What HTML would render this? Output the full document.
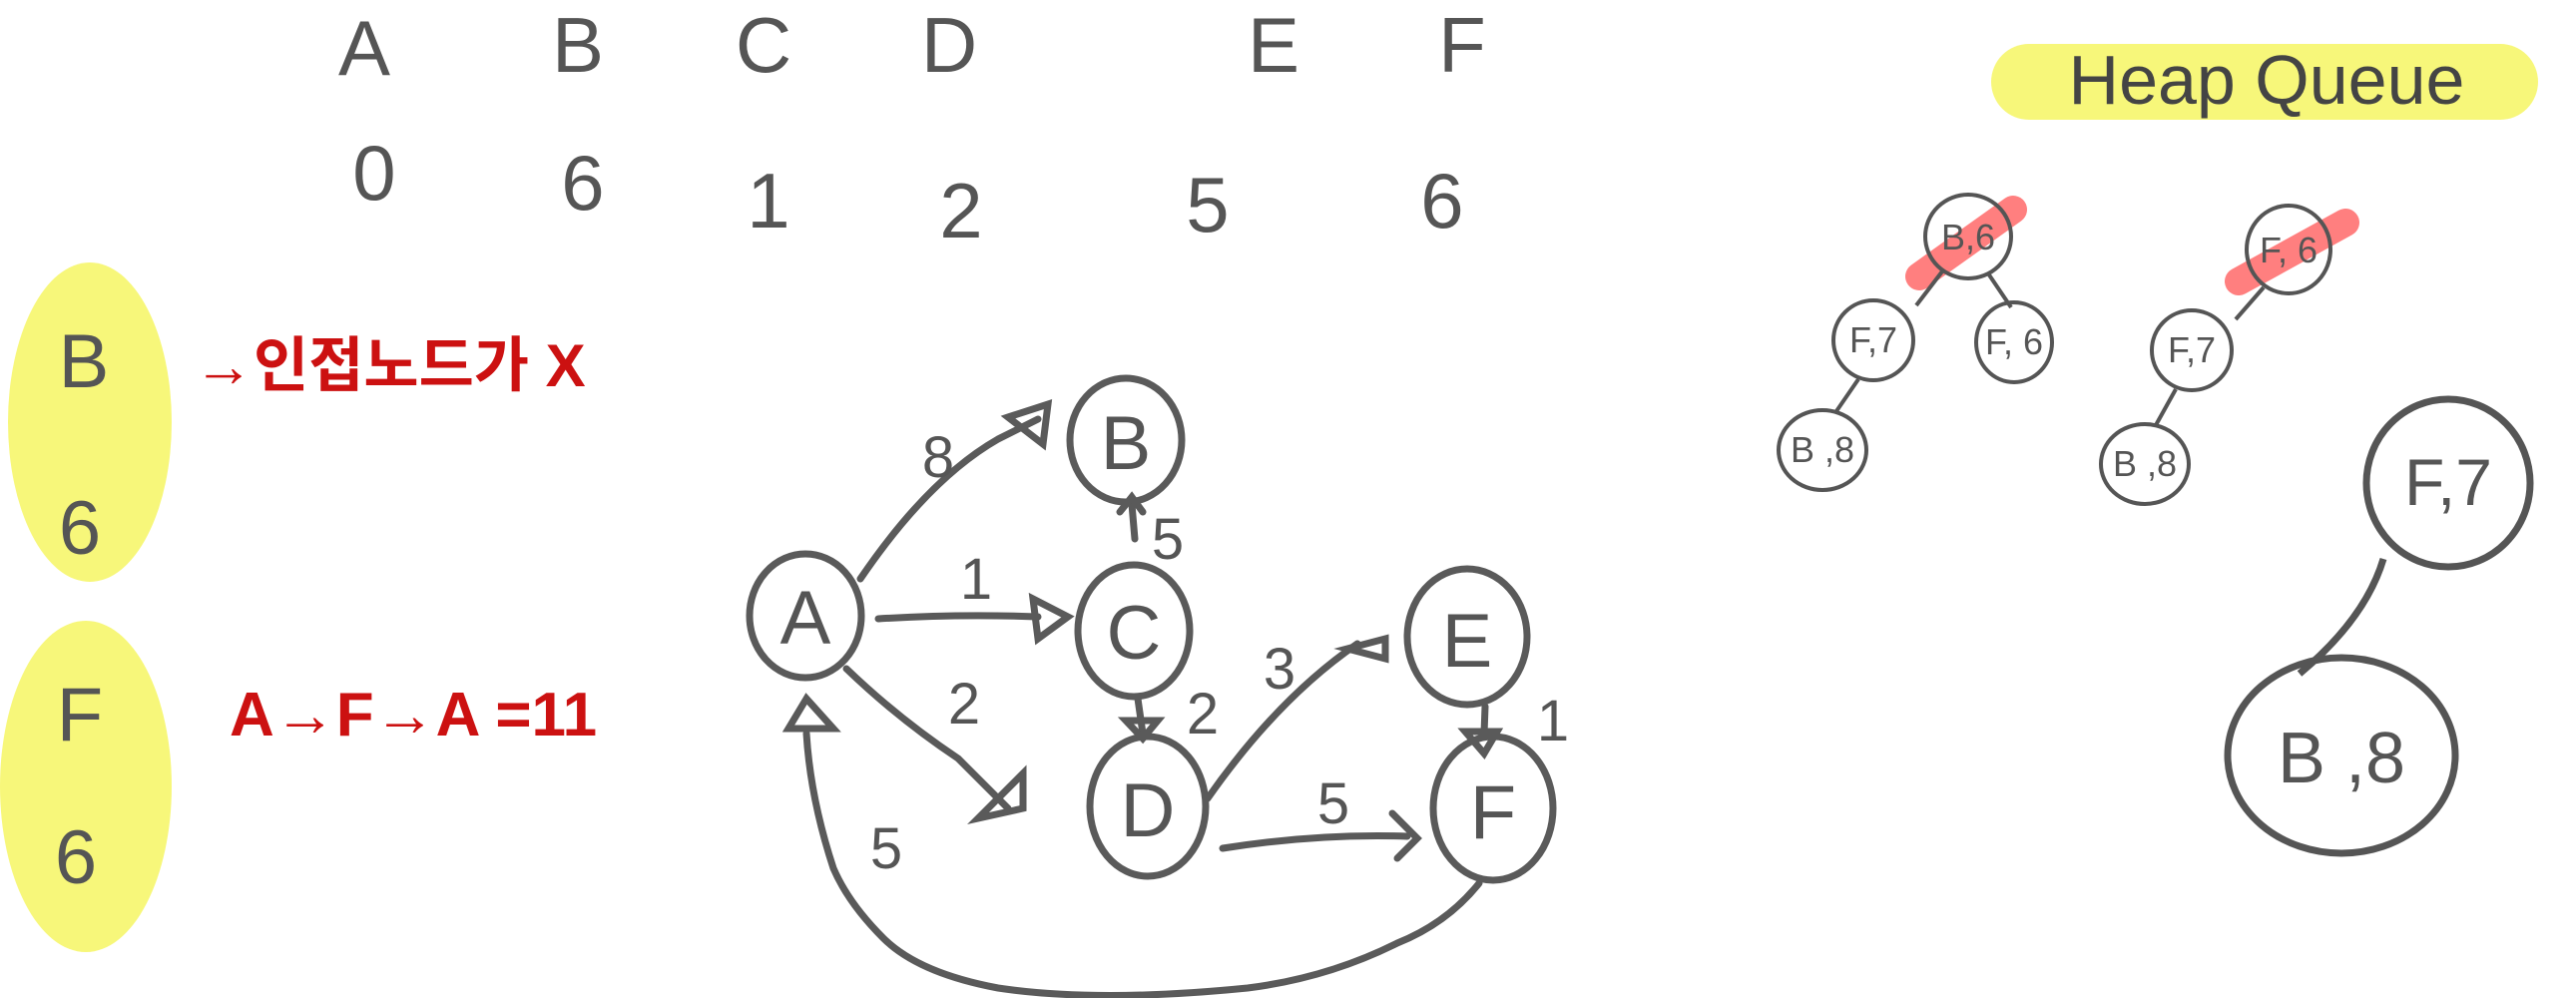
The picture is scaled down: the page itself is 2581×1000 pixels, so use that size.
<!DOCTYPE html>
<html><head><meta charset="utf-8"><style>
html,body{margin:0;padding:0;background:#fff;width:2581px;height:1000px;overflow:hidden}
svg{display:block}
text{font-family:"Liberation Sans","Noto Sans CJK KR",sans-serif}
</style></head><body>
<svg width="2581" height="1000" viewBox="0 0 2581 1000">
<g fill="#555" font-size="78" text-anchor="middle">
<text x="365" y="75">A</text>
<text x="579" y="72">B</text>
<text x="765" y="72">C</text>
<text x="951" y="72">D</text>
<text x="1276" y="72">E</text>
<text x="1465" y="72">F</text>
</g>
<g fill="#555" font-size="78" text-anchor="middle">
<text x="375" y="200">0</text>
<text x="584" y="210">6</text>
<text x="770" y="228">1</text>
<text x="963" y="238">2</text>
<text x="1210" y="232">5</text>
<text x="1445" y="228">6</text>
</g>
<rect x="1995" y="44" width="548" height="76" rx="38" fill="#f7f77a"/>
<text x="2271" y="104" font-size="70" fill="#444" text-anchor="middle">Heap Queue</text>
<ellipse cx="90" cy="423" rx="82" ry="160" fill="#f7f77a"/>
<ellipse cx="86" cy="788" rx="86" ry="166" fill="#f7f77a"/>
<g fill="#555" font-size="76" text-anchor="middle">
<text x="84" y="388">B</text>
<text x="80" y="555">6</text>
<text x="80" y="742">F</text>
<text x="76" y="885">6</text>
</g>
<text x="194" y="387" font-size="60" font-weight="bold" fill="#cc1111">→인접노드가 X</text>
<text x="230" y="737" font-size="62" font-weight="bold" fill="#cc1111">A→F→A =11</text>
<g fill="none" stroke="#5a5a5a" stroke-width="7" stroke-linecap="round">
<ellipse cx="807" cy="617" rx="56" ry="62"/>
<ellipse cx="1128" cy="441" rx="56" ry="62"/>
<ellipse cx="1136" cy="632" rx="56" ry="66"/>
<ellipse cx="1150" cy="808" rx="58" ry="70"/>
<ellipse cx="1470" cy="638" rx="60" ry="68"/>
<ellipse cx="1496" cy="810" rx="60" ry="72"/>
<path d="M862 580 Q930 480 1000 440 L1040 420"/>
<path d="M1010 418 L1050 405 L1045 445 Z"/>
<path d="M880 620 Q960 615 1040 618"/>
<path d="M1035 600 L1070 618 L1040 640 Z"/>
<path d="M848 670 Q900 720 960 760 Q990 790 1010 810"/>
<path d="M980 820 L1025 775 L1025 810 Z"/>
<path d="M1137 540 L1134 505"/>
<path d="M1122 513 L1134 498 L1145 513"/>
<path d="M1140 700 L1145 735"/>
<path d="M1128 722 L1160 722 L1145 740 Z"/>
<path d="M1210 800 Q1280 700 1360 645"/>
<path d="M1350 650 L1388 640 L1388 660 Z"/>
<path d="M1225 850 Q1320 835 1410 838"/>
<path d="M1395 815 L1420 840 L1400 860"/>
<path d="M1488 708 L1487 735"/>
<path d="M1468 733 L1500 733 L1487 755 Z"/>
<path d="M1482 885 Q1450 925 1400 945 Q1330 980 1250 990 Q1100 1005 1000 990 Q920 975 885 940 Q850 905 835 870 Q812 800 808 735"/>
<path d="M808 700 L790 730 L835 730 Z"/>
</g>
<g fill="#555" font-size="76" text-anchor="middle">
<text x="807" y="645">A</text>
<text x="1128" y="470">B</text>
<text x="1136" y="660">C</text>
<text x="1150" y="838">D</text>
<text x="1470" y="668">E</text>
<text x="1496" y="840">F</text>
</g>
<g fill="#555" font-size="58" text-anchor="middle">
<text x="940" y="478">8</text>
<text x="978" y="600">1</text>
<text x="966" y="725">2</text>
<text x="1170" y="560">5</text>
<text x="1205" y="735">2</text>
<text x="1282" y="690">3</text>
<text x="1336" y="825">5</text>
<text x="1556" y="742">1</text>
<text x="888" y="870">5</text>
</g>
<g>
<line x1="1923" y1="277" x2="2017" y2="210" stroke="#ff7f7f" stroke-width="28" stroke-linecap="round"/>
<line x1="2243" y1="282" x2="2350" y2="223" stroke="#ff7f7f" stroke-width="28" stroke-linecap="round"/>
<g fill="none" stroke="#555" stroke-width="4">
<ellipse cx="1972" cy="237" rx="43" ry="42"/>
<ellipse cx="1877" cy="341" rx="40" ry="40"/>
<ellipse cx="2018" cy="343" rx="38" ry="40"/>
<ellipse cx="1826" cy="451" rx="44" ry="40"/>
<line x1="1946" y1="272" x2="1920" y2="306"/>
<line x1="1992" y1="274" x2="2015" y2="308"/>
<line x1="1862" y1="380" x2="1840" y2="412"/>
<ellipse cx="2293" cy="250" rx="42" ry="44"/>
<ellipse cx="2196" cy="351" rx="40" ry="40"/>
<ellipse cx="2149" cy="465" rx="44" ry="40"/>
<line x1="2268" y1="288" x2="2240" y2="320"/>
<line x1="2180" y1="390" x2="2160" y2="426"/>
<ellipse cx="2453" cy="484" rx="82" ry="84" stroke-width="7"/>
<ellipse cx="2346" cy="757" rx="114" ry="98" stroke-width="7"/>
<path d="M2388 560 Q2370 620 2304 675" stroke-width="7"/>
</g>
<g fill="#555" font-size="36" text-anchor="middle">
<text x="1972" y="250">B,6</text>
<text x="1877" y="353">F,7</text>
<text x="2018" y="355">F, 6</text>
<text x="1826" y="463">B ,8</text>
<text x="2293" y="263">F, 6</text>
<text x="2196" y="363">F,7</text>
<text x="2149" y="477">B ,8</text>
<text x="2453" y="506" font-size="66">F,7</text>
<text x="2346" y="784" font-size="72">B ,8</text>
</g>
</g>
</svg>
</body></html>
